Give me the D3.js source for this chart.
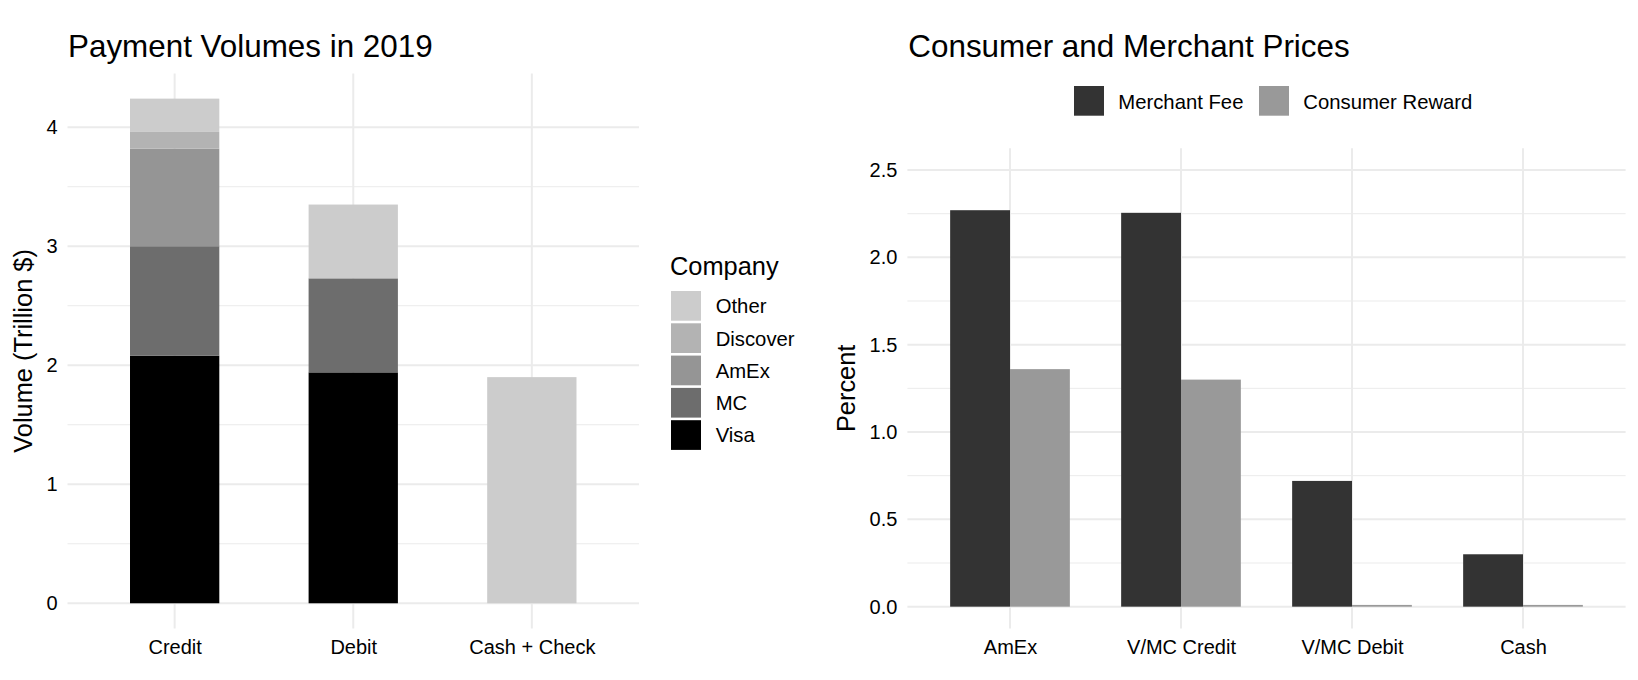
<!DOCTYPE html>
<html lang="en">
    <head>
        <meta charset="UTF-8">
        <title>Payment Volumes and Prices</title>
        <script src="https://d3js.org/d3.v7.min.js"></script>
        <style>
            html, body {
                margin: 0;
                background-color: white;
            }
            svg {
                display: block;
                font-family: "Liberation Sans", Arial, Helvetica, sans-serif;
            }
            .grid-major {
                stroke: #ebebeb;
                stroke-width: 2;
            }
            .grid-minor {
                stroke: #ebebeb;
                stroke-width: 1;
            }
            .tick text {
                font-size: 20px;
                fill: #000;
            }
        </style>
    </head>
    <body>
        <div id="container"></div>
        <script>

            // left chart: payment volumes (trillion $)
            const paymentTypes = ["Credit", "Debit", "Cash + Check"];
            const companies = ["Visa", "MC", "AmEx", "Discover", "Other"];
            const visaVolume = [2.08, 1.94, 0];
            const mcVolume = [0.92, 0.79, 0];
            const amexVolume = [0.82, 0, 0];
            const discoverVolume = [0.14, 0, 0];
            const otherVolume = [0.28, 0.62, 1.90];
            const volumeTicks = [0, 1, 2, 3, 4];
            const volumeMinorTicks = [0.5, 1.5, 2.5, 3.5];

            // right chart: prices (percent)
            const priceMethods = ["AmEx", "V/MC Credit", "V/MC Debit", "Cash"];
            const priceSeries = ["Merchant Fee", "Consumer Reward"];
            const merchantFee = [2.27, 2.255, 0.72, 0.30];
            const consumerReward = [1.36, 1.30, 0.01, 0.01];
            const percentTicks = [0, 0.5, 1, 1.5, 2, 2.5];
            const percentMinorTicks = [0.25, 0.75, 1.25, 1.75, 2.25];

            const companyColor = d3.scaleOrdinal()
                .domain(companies)
                .range(["#000000", "#6d6d6d", "#959595", "#b3b3b3", "#cccccc"]);

            const priceColor = d3.scaleOrdinal()
                .domain(priceSeries)
                .range(["#333333", "#999999"]);

            const width = 1638;
            const height = 680;

            const svg = d3.select("#container")
                .append("svg")
                .attr("width", width)
                .attr("height", height);

            svg.append("rect")
                .attr("width", width)
                .attr("height", height)
                .attr("fill", "white");

            const drawGrid = (g, x, y, major, minor, left, right, top, bottom) => {
                g.selectAll(".grid-minor")
                    .data(minor)
                    .enter().append("line")
                    .attr("class", "grid-minor")
                    .attr("x1", left).attr("x2", right)
                    .attr("y1", d => y(d)).attr("y2", d => y(d));
                g.selectAll(".grid-major.h")
                    .data(major)
                    .enter().append("line")
                    .attr("class", "grid-major h")
                    .attr("x1", left).attr("x2", right)
                    .attr("y1", d => y(d)).attr("y2", d => y(d));
                g.selectAll(".grid-major.v")
                    .data(x.domain())
                    .enter().append("line")
                    .attr("class", "grid-major v")
                    .attr("x1", d => x(d)).attr("x2", d => x(d))
                    .attr("y1", top).attr("y2", bottom);
            };

            const drawAxes = (g, x, y, ticks, fmt, left, bottom) => {
                g.append("g")
                    .attr("transform", `translate(${left},0)`)
                    .call(d3.axisLeft(y).tickValues(ticks).tickFormat(fmt).tickSize(0).tickPadding(10))
                    .call(a => a.select(".domain").remove())
                    .selectAll("text").style("font-size", "20px");
                g.append("g")
                    .attr("transform", `translate(0,${bottom})`)
                    .call(d3.axisBottom(x).tickSize(0).tickPadding(11.5))
                    .call(a => a.select(".domain").remove())
                    .selectAll("text").style("font-size", "20px");
            };

            // ---------- Payment Volumes ----------
            const L = { left: 67.5, right: 639, top: 73.4, bottom: 628.5 };

            const volumeRows = paymentTypes.map((p, i) => ({
                type: p,
                Visa: visaVolume[i],
                MC: mcVolume[i],
                AmEx: amexVolume[i],
                Discover: discoverVolume[i],
                Other: otherVolume[i]
            }));
            const stacked = d3.stack().keys(companies)(volumeRows);
            const maxVolume = d3.max(volumeRows, r => d3.sum(companies, c => r[c]));
            const padV = maxVolume * 0.05;

            const xL = d3.scalePoint()
                .domain(paymentTypes)
                .range([L.left, L.right])
                .padding(0.6);
            const stepL = xL.step();

            const yL = d3.scaleLinear()
                .domain([-padV, maxVolume + padV])
                .range([L.bottom, L.top]);

            const gL = svg.append("g");
            drawGrid(gL, xL, yL, volumeTicks, volumeMinorTicks, L.left, L.right, L.top, L.bottom);

            gL.selectAll(".layer")
                .data(stacked)
                .enter().append("g")
                .attr("fill", d => companyColor(d.key))
                .selectAll("rect")
                .data(d => d.filter(s => s[1] - s[0] > 0))
                .enter().append("rect")
                .attr("x", d => xL(d.data.type) - stepL * 0.25)
                .attr("width", stepL * 0.5)
                .attr("y", d => yL(d[1]))
                .attr("height", d => yL(d[0]) - yL(d[1]));

            drawAxes(gL, xL, yL, volumeTicks, d3.format("d"), L.left, L.bottom);

            svg.append("text")
                .attr("x", 68)
                .attr("y", 56.7)
                .style("font-size", "31.4px")
                .text("Payment Volumes in 2019");

            svg.append("text")
                .attr("transform", `translate(32.3,${(L.top + L.bottom) / 2}) rotate(-90)`)
                .attr("text-anchor", "middle")
                .style("font-size", "25.4px")
                .text("Volume (Trillion $)");

            // legend
            const legendL = svg.append("g");
            legendL.append("text")
                .attr("x", 670)
                .attr("y", 275)
                .style("font-size", "25.4px")
                .text("Company");

            const legendItems = legendL.selectAll(".legend-item")
                .data(companies.slice().reverse())
                .enter().append("g")
                .attr("class", "legend-item")
                .attr("transform", (d, i) => `translate(671,${291 + i * 32.3})`);
            legendItems.append("rect")
                .attr("width", 30)
                .attr("height", 29.7)
                .attr("fill", d => companyColor(d));
            legendItems.append("text")
                .attr("x", 44.7)
                .attr("y", 22.3)
                .style("font-size", "20.3px")
                .text(d => d);

            // ---------- Consumer and Merchant Prices ----------
            const R = { left: 907.4, right: 1625.6, top: 148.2, bottom: 628.5 };

            const xR = d3.scalePoint()
                .domain(priceMethods)
                .range([R.left, R.right])
                .padding(0.6);
            const stepR = xR.step();

            const yR = d3.scaleLinear()
                .domain([-0.125, 2.625])
                .range([R.bottom, R.top]);

            const gR = svg.append("g");
            drawGrid(gR, xR, yR, percentTicks, percentMinorTicks, R.left, R.right, R.top, R.bottom);

            const priceBars = [];
            priceMethods.forEach((m, i) => {
                priceBars.push({ method: m, series: "Merchant Fee", value: merchantFee[i], k: 0 });
                priceBars.push({ method: m, series: "Consumer Reward", value: consumerReward[i], k: 1 });
            });

            gR.selectAll(".price-bar")
                .data(priceBars)
                .enter().append("rect")
                .attr("class", "price-bar")
                .attr("x", d => xR(d.method) - stepR * 0.35 + d.k * stepR * 0.35)
                .attr("width", stepR * 0.35)
                .attr("y", d => yR(d.value))
                .attr("height", d => yR(0) - yR(d.value))
                .attr("fill", d => priceColor(d.series));

            drawAxes(gR, xR, yR, percentTicks, d3.format(".1f"), R.left, R.bottom);

            svg.append("text")
                .attr("x", 908.3)
                .attr("y", 56.7)
                .style("font-size", "31.4px")
                .text("Consumer and Merchant Prices");

            svg.append("text")
                .attr("transform", `translate(855,${(R.top + R.bottom) / 2}) rotate(-90)`)
                .attr("text-anchor", "middle")
                .style("font-size", "25.4px")
                .text("Percent");

            const legendR = svg.selectAll(".legend-top")
                .data(priceSeries)
                .enter().append("g")
                .attr("class", "legend-top")
                .attr("transform", (d, i) => `translate(${[1074, 1259][i]},86)`);
            legendR.append("rect")
                .attr("width", 30)
                .attr("height", 29.7)
                .attr("fill", d => priceColor(d));
            legendR.append("text")
                .attr("x", 44.3)
                .attr("y", 23.3)
                .style("font-size", "20.3px")
                .text(d => d);

        </script>
    </body>
</html>
